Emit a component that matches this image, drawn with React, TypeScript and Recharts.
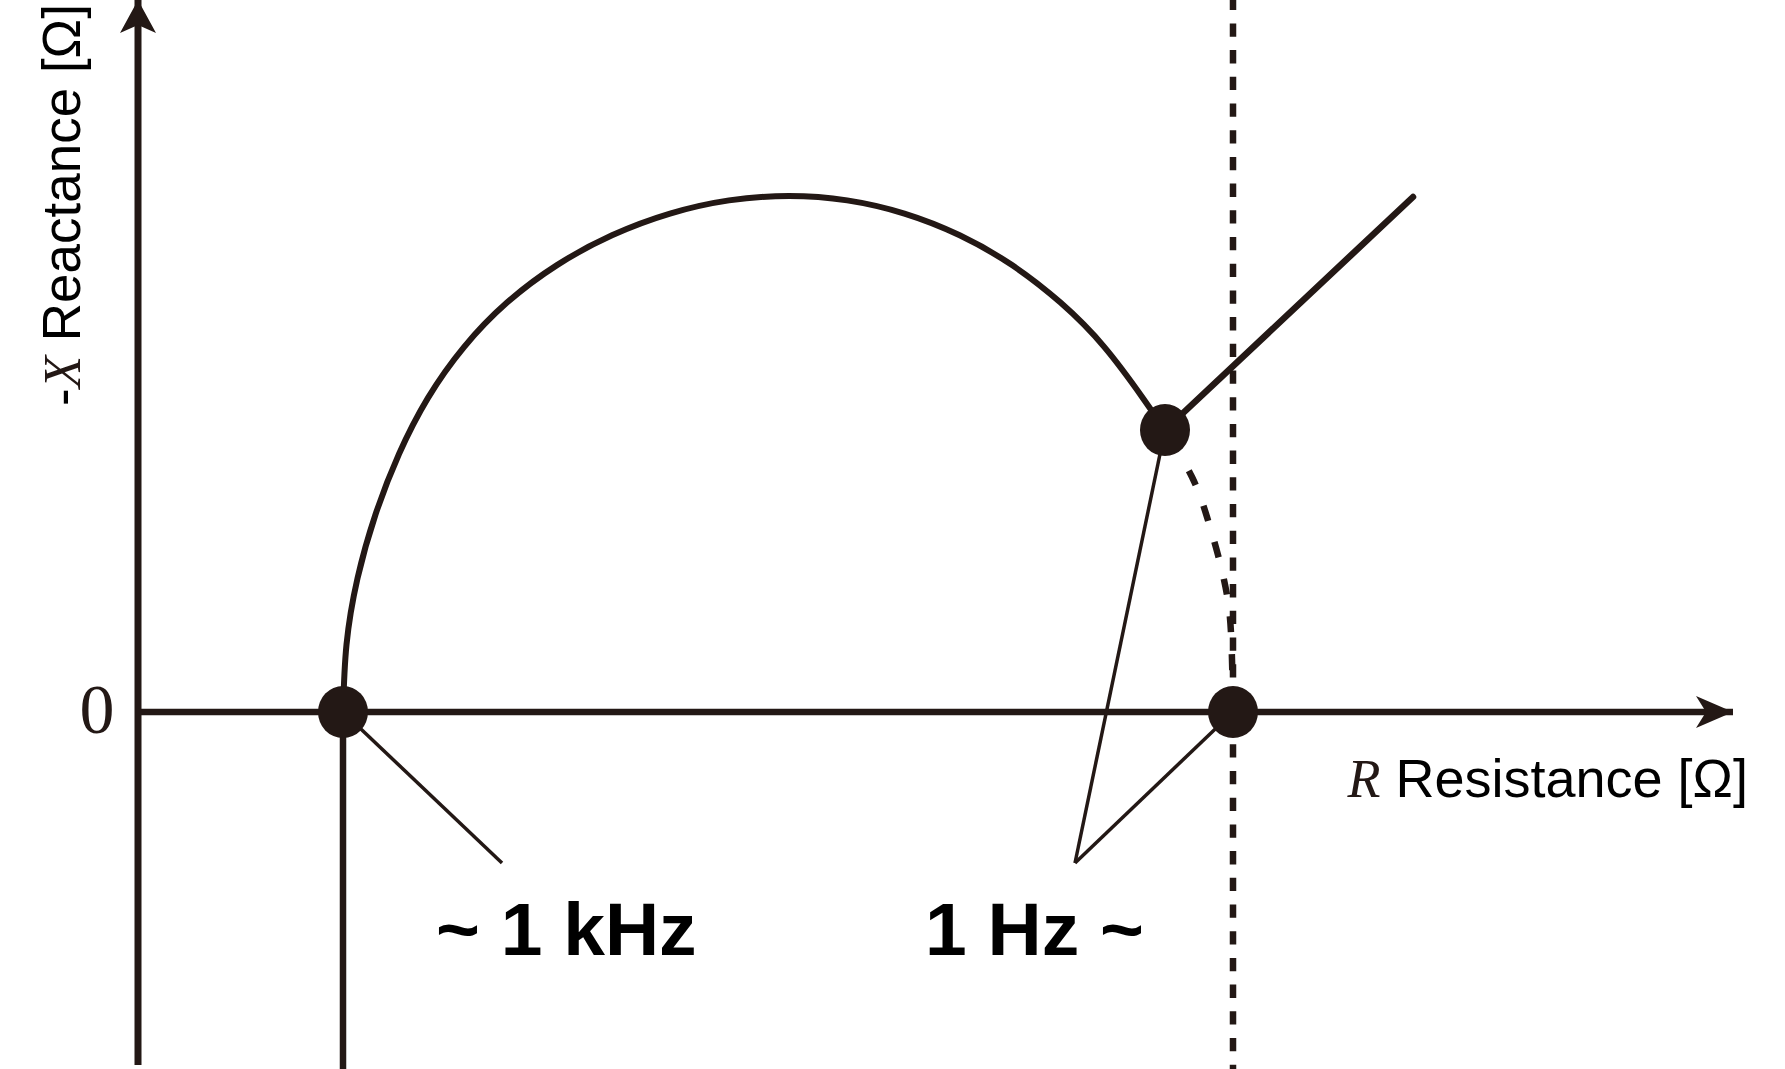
import React from 'react';
import { ComposedChart, Line, Scatter, XAxis, YAxis, ReferenceDot } from 'recharts';

const INK = '#231815';
const SANS = '"Liberation Sans", Arial, Helvetica, sans-serif';
const SERIF = '"Liberation Serif", "Times New Roman", serif';

// Nyquist arc: R [Ω] and -X [Ω]
const arcR = [20.5, 20.85, 21.95, 23.75, 26.1, 29.0, 32.6, 36.9, 41.9, 47.4, 53.2, 59.1, 65.1, 70.92, 76.64, 82.17, 87.4, 92.25, 96.64, 100.48, 102.7];
const arcNX = [0, 6.74, 13.36, 19.75, 25.8, 31.41, 36.49, 40.94, 44.69, 47.67, 49.84, 51.16, 51.6, 51.16, 49.84, 47.67, 44.69, 40.94, 36.49, 31.41, 28.2];

// dashed low-frequency continuation
const tailR = [102.7, 105.4, 106.9, 108.0, 108.9, 109.3, 109.45, 109.5];
const tailNX = [28.2, 23.5, 19.5, 15.7, 11.7, 7.9, 3.2, 0];

// diffusion (Warburg) line
const diffR = [102.7, 127.5];
const diffNX = [28.2, 51.5];

// key points: R_inf (~1 kHz), knee (1 Hz), R_dc
const keyR = [20.5, 102.7, 109.5];
const keyNX = [0, 28.2, 0];

// axes extents
const rAxis = [0, 159.5];
const nxAxis = [-35.3, 71.2];
const rDomain = [-13.8, 164.7];
const nxDomain = [-35.7, 71.2];

// leader lines end at the label
const leaderEnd1k = { r: 36.4, nx: -15.1 };
const leaderEnd1 = { r: 93.7, nx: -15.1 };

const zip = (rs: number[], xs: number[]) => rs.map((r, i) => ({ r, nx: xs[i] }));

const arcData = zip(arcR, arcNX);
const tailData = zip(tailR, tailNX);
const diffData = zip(diffR, diffNX);
const keyData = zip(keyR, keyNX);
const xAxisData = [{ r: rAxis[0], nx: 0 }, { r: rAxis[1], nx: 0 }];
const yAxisData = [{ r: 0, nx: nxAxis[0] }, { r: 0, nx: nxAxis[1] }];
const rInfLine = [{ r: keyR[0], nx: 0 }, { r: keyR[0], nx: nxDomain[0] }];
const rDcLine = [{ r: keyR[2], nx: nxDomain[1] }, { r: keyR[2], nx: nxDomain[0] }];
const lead1 = [{ r: keyR[0], nx: keyNX[0] }, leaderEnd1k];
const lead2 = [{ r: keyR[1], nx: keyNX[1] }, leaderEnd1];
const lead3 = [{ r: keyR[2], nx: keyNX[2] }, leaderEnd1];

const ArrowRight = (p: any) => (
  <path d={`M${p.cx},${p.cy} L${p.cx - 37},${p.cy - 16} L${p.cx - 27},${p.cy} L${p.cx - 37},${p.cy + 16} Z`} fill={INK} />
);
const ArrowUp = (p: any) => (
  <path d={`M${p.cx},${p.cy} L${p.cx - 18},${p.cy + 33} L${p.cx},${p.cy + 25} L${p.cx + 18},${p.cy + 33} Z`} fill={INK} />
);

const Dot = (p: any) => <ellipse cx={p.cx} cy={p.cy} rx={25} ry={26} fill={INK} />;

const common = { dot: false as const, activeDot: false as const, isAnimationActive: false, stroke: INK, dataKey: 'nx' };

export default function App() {
  const W = 1785;
  const H = 1069;
  return (
    <div style={{ position: 'absolute', left: 0, top: 0, width: W, height: H, background: '#fff' }}>
      <ComposedChart width={W} height={H} margin={{ top: 0, right: 0, bottom: 0, left: 0 }}>
        <XAxis type="number" dataKey="r" domain={rDomain} hide allowDataOverflow />
        <YAxis type="number" dataKey="nx" domain={nxDomain} hide allowDataOverflow />

        <Line {...common} data={yAxisData} type="linear" strokeWidth={7} />
        <Line {...common} data={xAxisData} type="linear" strokeWidth={6.5} />
        <Line {...common} data={rInfLine} type="linear" strokeWidth={6.5} />
        <Line {...common} data={rDcLine} type="linear" strokeWidth={6.5} strokeDasharray="13.3 13.4" strokeDashoffset={3.3} />
        <Line {...common} data={arcData} type="natural" strokeWidth={6} />
        <Line {...common} data={tailData} type="natural" strokeWidth={6.5} strokeDasharray="16 22" strokeDashoffset={-9} />
        <Line {...common} data={diffData} type="linear" strokeWidth={6.5} strokeLinecap="round" />
        <Line {...common} data={lead1} type="linear" strokeWidth={3.5} />
        <Line {...common} data={lead2} type="linear" strokeWidth={3.5} />
        <Line {...common} data={lead3} type="linear" strokeWidth={3.5} />

        <Scatter data={keyData} dataKey="nx" shape={Dot} isAnimationActive={false} />

        <ReferenceDot x={rAxis[1]} y={0} ifOverflow="visible" shape={ArrowRight} />
        <ReferenceDot x={0} y={nxAxis[1]} ifOverflow="visible" shape={ArrowUp} />

        <ReferenceDot x={-4.1} y={-2.1} ifOverflow="visible" shape={(p: any) => (
          <text x={p.cx} y={p.cy} textAnchor="middle" fontFamily={SERIF} fontSize={70} fill={INK}>0</text>
        )} />
        <ReferenceDot x={-5.8} y={50.7} ifOverflow="visible" shape={(p: any) => (
          <text x={p.cx} y={p.cy} transform={`rotate(-90, ${p.cx}, ${p.cy})`} textAnchor="middle" fontFamily={SANS} fontSize={53} fill="#000">
            <tspan>-</tspan>
            <tspan fontFamily={SERIF} fontStyle="italic" fill={INK}>X</tspan>
            <tspan> Reactance [Ω]</tspan>
          </text>
        )} />
        <ReferenceDot x={161} y={-8.5} ifOverflow="visible" shape={(p: any) => (
          <text x={p.cx} y={p.cy} textAnchor="end" fontFamily={SANS} fontSize={54} fill="#000">
            <tspan fontFamily={SERIF} fontStyle="italic" fill={INK}>R</tspan>
            <tspan> Resistance [Ω]</tspan>
          </text>
        )} />
        <ReferenceDot x={29.8} y={-24.3} ifOverflow="visible" shape={(p: any) => (
          <text x={p.cx} y={p.cy} textAnchor="start" fontFamily={SANS} fontWeight="bold" fontSize={75} fill="#000">~ 1 kHz</text>
        )} />
        <ReferenceDot x={78.7} y={-24.3} ifOverflow="visible" shape={(p: any) => (
          <text x={p.cx} y={p.cy} textAnchor="start" fontFamily={SANS} fontWeight="bold" fontSize={75} fill="#000">1 Hz ~</text>
        )} />
      </ComposedChart>
    </div>
  );
}
